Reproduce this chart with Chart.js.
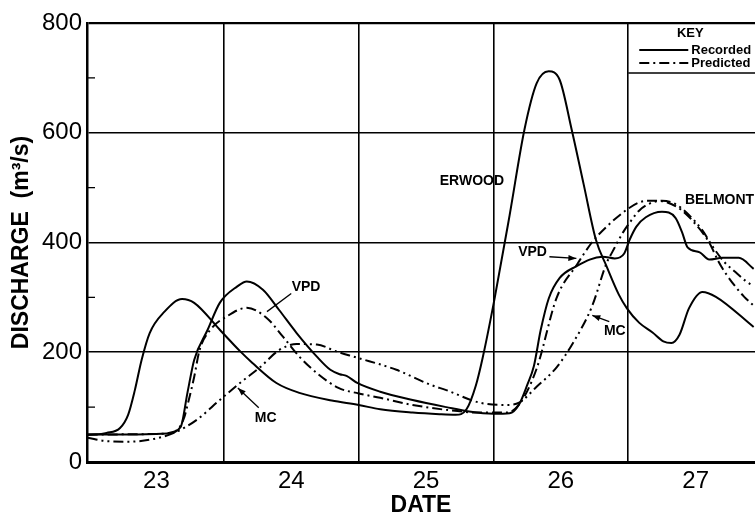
<!DOCTYPE html>
<html>
<head>
<meta charset="utf-8">
<script src="https://cdn.jsdelivr.net/npm/chart.js@4/dist/chart.umd.min.js"></script>
<style>
  html, body { margin: 0; padding: 0; background: #fff; overflow: hidden; }
</style>
</head>
<body>
<canvas id="myChart" width="755" height="517"></canvas>
<script>
const FONT = "'Liberation Sans', Arial, Helvetica, sans-serif"

// axis ticks (days of the month, discharge m3/s)
const dayTicks = [23, 24, 25, 26, 27]
const dayBounds = [23.5, 24.5, 25.5, 26.5]
const flowTicks = [0, 200, 400, 600, 800]
const flowMinor = [100, 300, 500, 700]

// Erwood, recorded
const erwoodDays = [22.49, 22.63, 22.73, 22.79, 22.84, 22.89, 22.95, 23.06, 23.19, 23.28, 23.47, 23.62, 23.71, 23.89, 24.06, 24.3, 24.5, 24.66, 24.9, 25.1, 25.22, 25.3, 25.37, 25.42, 25.51, 25.62, 25.73, 25.82, 25.91, 25.99, 26.08, 26.17, 26.26, 26.34, 26.43, 26.49, 26.58, 26.68, 26.76, 26.82, 26.88, 26.95, 27.05, 27.15, 27.43]
const erwoodFlow = [49, 53, 62, 86, 131, 186, 235, 274, 297, 290, 241, 202, 181, 144, 126, 112, 104, 96, 90, 87, 86, 96, 140, 190, 300, 450, 606, 690, 712, 697, 606, 505, 405, 356, 305, 280, 254, 236, 220, 217, 232, 280, 310, 301, 246]

// Belmont, recorded
const belmontDays = [22.49, 22.8, 23.08, 23.18, 23.23, 23.28, 23.38, 23.47, 23.6, 23.67, 23.79, 23.91, 24.04, 24.19, 24.29, 24.36, 24.41, 24.49, 24.66, 24.9, 25.15, 25.32, 25.5, 25.62, 25.69, 25.75, 25.8, 25.85, 25.91, 25.99, 26.11, 26.31, 26.4, 26.47, 26.51, 26.56, 26.63, 26.75, 26.85, 26.9, 26.94, 27.03, 27.1, 27.2, 27.32, 27.43]
const belmontFlow = [50, 50, 52, 64, 126, 186, 241, 290, 320, 329, 314, 277, 235, 192, 168, 160, 157, 144, 128, 113, 100, 92, 88, 89, 105, 140, 175, 240, 298, 335, 356, 374, 371, 380, 405, 429, 446, 456, 445, 418, 391, 382, 369, 372, 372, 352]

// Belmont, predicted by VPD
const vpdDays = [22.49, 22.98, 23.13, 23.2, 23.24, 23.28, 23.32, 23.4, 23.52, 23.67, 23.82, 23.94, 24.06, 24.2, 24.35, 24.5, 24.66, 24.9, 25.15, 25.4, 25.6, 25.7, 25.82, 25.97, 26.12, 26.23, 26.34, 26.49, 26.58, 26.64, 26.71, 26.79, 26.89, 26.99, 27.1, 27.17, 27.23, 27.3, 27.36, 27.43]
const vpdFlow = [50, 51, 55, 77, 113, 155, 204, 241, 265, 281, 262, 228, 192, 160, 135, 125, 117, 104, 95, 90, 90, 108, 170, 300, 360, 400, 429, 460, 473, 476, 476, 473, 460, 436, 400, 365, 341, 318, 301, 285]

// Belmont, predicted by MC
const mcDays = [22.49, 22.63, 22.8, 22.98, 23.13, 23.3, 23.47, 23.62, 23.77, 23.91, 24.04, 24.19, 24.34, 24.49, 24.78, 25.03, 25.15, 25.4, 25.6, 25.69, 25.82, 25.97, 26.09, 26.23, 26.34, 26.38, 26.46, 26.51, 26.58, 26.65, 26.75, 26.85, 26.95, 27.05, 27.13, 27.21, 27.29, 27.37, 27.43]
const mcFlow = [44, 38, 37, 42, 53, 77, 113, 144, 173, 204, 215, 214, 201, 190, 168, 141, 131, 108, 104, 108, 137, 173, 217, 283, 363, 382, 418, 436, 458, 470, 476, 470, 450, 422, 391, 365, 347, 330, 320]

// text notes on the plot, placed in data units
const notes = [
  { text: 'ERWOOD', x: 25.34, y: 511, align: 'center' },
  { text: 'BELMONT', x: 26.92, y: 477, align: 'left' },
  { text: 'VPD', x: 25.79, y: 382, align: 'center' },
  { text: 'VPD', x: 24.11, y: 318, align: 'center' },
  { text: 'MC', x: 23.81, y: 80, align: 'center' },
  { text: 'MC', x: 26.40, y: 239, align: 'center' },
]
const leaders = [
  { from: [25.915, 374], to: [26.115, 371], head: true },
  { from: [24.0, 307], to: [23.82, 274], head: false },
  { from: [23.759, 99], to: [23.604, 135], head: true },
  { from: [26.359, 256], to: [26.233, 267], head: true },
]

const zip = (xs, ys) => xs.map((x, i) => ({ x: x, y: ys[i] }))

const series = (label, days, flow, dash) => ({
  label: label,
  data: zip(days, flow),
  borderColor: '#000',
  borderWidth: 2,
  borderDash: dash,
  pointRadius: 0,
  fill: false,
  cubicInterpolationMode: 'monotone',
})

const arrow = (ctx, x1, y1, x2, y2, head) => {
  ctx.beginPath()
  ctx.moveTo(x1, y1)
  ctx.lineTo(x2, y2)
  ctx.stroke()
  if (!head) return
  const a = Math.atan2(y2 - y1, x2 - x1)
  ctx.beginPath()
  ctx.moveTo(x2, y2)
  ctx.lineTo(x2 - 8 * Math.cos(a) + 3 * Math.sin(a), y2 - 8 * Math.sin(a) - 3 * Math.cos(a))
  ctx.lineTo(x2 - 8 * Math.cos(a) - 3 * Math.sin(a), y2 - 8 * Math.sin(a) + 3 * Math.cos(a))
  ctx.closePath()
  ctx.fill()
}

const notesPlugin = {
  id: 'notes',
  afterDraw(chart) {
    const ctx = chart.ctx
    const xs = chart.scales.x
    const ys = chart.scales.y
    const area = chart.chartArea
    ctx.save()
    ctx.fillStyle = '#000'
    ctx.strokeStyle = '#000'
    ctx.lineWidth = 1.3

    // short inward ticks on the discharge axis
    flowMinor.forEach((v) => {
      const y = ys.getPixelForValue(v)
      ctx.beginPath()
      ctx.moveTo(area.left, y)
      ctx.lineTo(area.left + 8, y)
      ctx.stroke()
    })

    ctx.font = `bold 14px ${FONT}`
    ctx.textBaseline = 'middle'
    notes.forEach((n) => {
      ctx.textAlign = n.align
      ctx.fillText(n.text, xs.getPixelForValue(n.x), ys.getPixelForValue(n.y))
    })
    leaders.forEach((l) => {
      arrow(ctx, xs.getPixelForValue(l.from[0]), ys.getPixelForValue(l.from[1]),
        xs.getPixelForValue(l.to[0]), ys.getPixelForValue(l.to[1]), l.head)
    })

    // key box in the top right corner
    const kx = xs.getPixelForValue(26.5)
    const kt = area.top
    ctx.fillStyle = '#fff'
    ctx.fillRect(kx + 1, kt + 2, area.right - kx, 48)
    ctx.fillStyle = '#000'
    ctx.lineWidth = 1.5
    ctx.beginPath()
    ctx.moveTo(kx, kt + 50)
    ctx.lineTo(area.right, kt + 50)
    ctx.stroke()
    ctx.font = `bold 13px ${FONT}`
    ctx.textAlign = 'center'
    ctx.fillText('KEY', kx + 62, kt + 10)
    ctx.textAlign = 'left'
    ctx.fillText('Recorded', kx + 63, kt + 27)
    ctx.fillText('Predicted', kx + 63, kt + 40)
    ctx.lineWidth = 2
    ctx.beginPath()
    ctx.moveTo(kx + 11, kt + 27)
    ctx.lineTo(kx + 60, kt + 27)
    ctx.stroke()
    ctx.setLineDash([10, 4, 2, 4])
    ctx.beginPath()
    ctx.moveTo(kx + 11, kt + 40)
    ctx.lineTo(kx + 60, kt + 40)
    ctx.stroke()
    ctx.restore()
  }
}

const ctx = document.getElementById('myChart')

new Chart(ctx, {
  type: 'line',
  data: {
    datasets: [
      series('Erwood recorded', erwoodDays, erwoodFlow, []),
      series('Belmont recorded', belmontDays, belmontFlow, []),
      series('VPD', vpdDays, vpdFlow, [10, 4, 2, 4]),
      series('MC', mcDays, mcFlow, [10, 4, 2, 4, 2, 4]),
    ]
  },
  options: {
    responsive: false,
    animation: false,
    devicePixelRatio: 1,
    layout: { padding: { top: 23, right: 0, left: 0, bottom: 0 } },
    plugins: {
      legend: { display: false },
      tooltip: { enabled: false },
    },
    scales: {
      x: {
        type: 'linear',
        min: 22.485,
        max: 27.44,
        afterBuildTicks: (scale) => {
          scale.ticks = [...dayTicks, ...dayBounds].sort((a, b) => a - b).map((v) => ({ value: v }))
        },
        afterFit: (scale) => { scale.height = 55 },
        ticks: {
          autoSkip: false,
          maxRotation: 0,
          padding: 5,
          color: '#000',
          font: { family: FONT, size: 24 },
          callback: (v) => dayTicks.includes(v) ? String(v) : '',
        },
        grid: {
          drawTicks: false,
          color: (c) => c.tick && dayBounds.includes(c.tick.value) ? '#000' : 'rgba(0,0,0,0)',
          lineWidth: 1.6,
        },
        border: { color: '#000', width: 3 },
        title: {
          display: true,
          text: 'DATE',
          color: '#000',
          font: { family: FONT, size: 23, weight: 'bold', lineHeight: 1 },
          padding: { top: 0, bottom: 0 },
        },
      },
      y: {
        min: 0,
        max: 800,
        afterBuildTicks: (scale) => {
          scale.ticks = flowTicks.map((v) => ({ value: v }))
        },
        afterFit: (scale) => { scale.width = 87 },
        ticks: {
          padding: 5,
          color: '#000',
          font: { family: FONT, size: 24 },
        },
        grid: {
          drawTicks: false,
          color: '#000',
          lineWidth: (c) => c.tick && c.tick.value === 800 ? 2.2 : 1.6,
        },
        border: { color: '#000', width: 2.5 },
        title: {
          display: true,
          text: 'DISCHARGE  (m\u00B3/s)',
          color: '#000',
          font: { family: FONT, size: 23, weight: 'bold' },
          padding: { top: 8, bottom: 0 },
        },
      },
    },
  },
  plugins: [notesPlugin],
})
</script>
</body>
</html>
